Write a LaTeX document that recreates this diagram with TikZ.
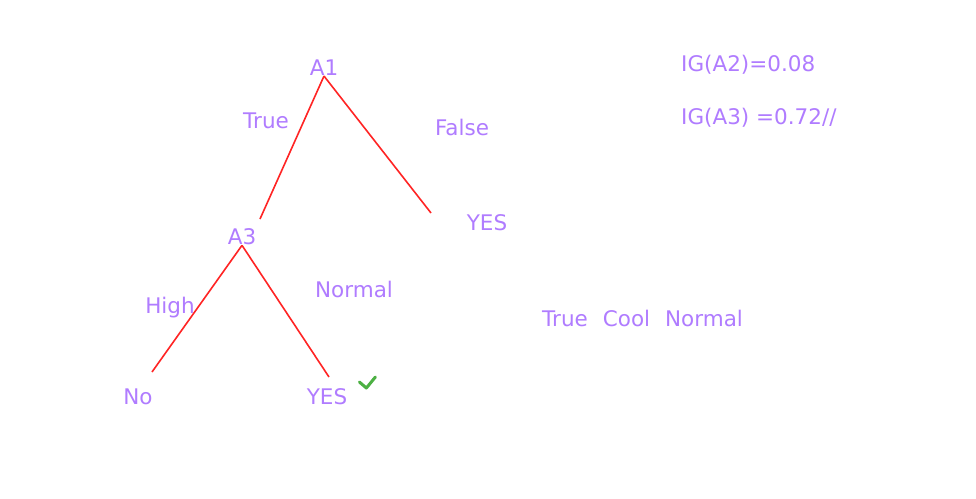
\documentclass[tikz,border=0pt]{standalone}
\usepackage{fontspec}
\setmainfont{DejaVu Sans}
\usepackage{xcolor}
\definecolor{LabelPurple}{HTML}{B07CFF}
\definecolor{EdgeRed}{HTML}{FF2424}
\definecolor{TickGreen}{HTML}{4CB043}
\usepackage{tikz}
\usetikzlibrary{positioning}

\begin{document}
\begin{tikzpicture}[x=1pt, y=-1pt,
    label/.style={
    text=LabelPurple,
    inner sep=0pt,
    font=\fontsize{21.5}{25}\selectfont},
    edge/.style={draw=EdgeRed, line width=1.6pt}]
    \useasboundingbox[fill=white] (0,0) rectangle (976,498);

    \node [label] (A1) at (324,68) {A1};
    \node [label] (A3) at (242,237) {A3};
    \node [label] (YesRight) at (487,223) {YES};
    \node [label] (No) at (138,397) {No};
    \node [label] (YesLeft) at (327,397) {YES};

    \node [label] (True) at (266,121) {True};
    \node [label] (False) at (462,127) {False};
    \node [label] (High) at (170,308) {High};
    \node [label] (Normal) at (354,289) {Normal};

    \node [label, anchor=west] (IGa) at (681,65) {IG(A2)=0.08};
    \node [label, anchor=west] (IGb) at (681,118) {IG(A3) =0.72//};
    \node [label, anchor=west] (Row) at (542,318) {True\hspace{15pt}Cool\hspace{15pt}Normal};

    \coordinate (TrueEnd) at (260,219);
    \coordinate (FalseEnd) at (431,213);
    \coordinate (HighEnd) at (152,372);
    \coordinate (NormalEnd) at (329,377);

    \draw[edge] (A1.south) -- (TrueEnd);
    \draw[edge] (A1.south) -- (FalseEnd);
    \draw[edge] (A3.south) -- (HighEnd);
    \draw[edge] (A3.south) -- (NormalEnd);

    % tick next to the chosen leaf
    \draw[TickGreen, line width=3pt, line cap=round, line join=round]
        ([xshift=12pt,yshift=15pt]YesLeft.east) -- ++(7,6) -- ++(9,-11);
\end{tikzpicture}
\end{document}
